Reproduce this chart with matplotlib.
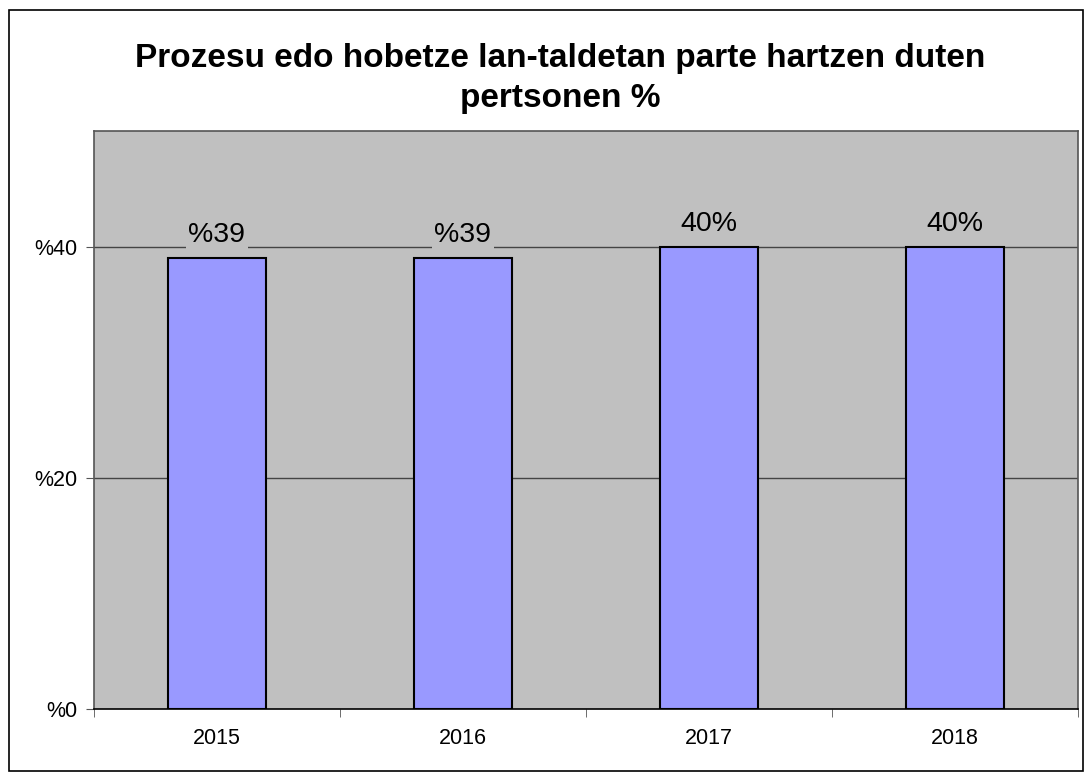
import matplotlib.pyplot as plt
from matplotlib.patches import Rectangle
import numpy as np

plt.rcParams['font.family'] = ['Liberation Sans', 'DejaVu Sans']

years = ['2015', '2016', '2017', '2018']
values = [39, 39, 40, 40]
value_labels = ['%39', '%39', '40%', '40%']
y_ticks = [0, 20, 40]
y_tick_labels = ['%0', '%20', '%40']
title = 'Prozesu edo hobetze lan-taldetan parte hartzen duten\npertsonen %'

fig = plt.figure(figsize=(10.85, 7.76), dpi=100)
ax = fig.add_axes([0.0866, 0.0863, 0.9069, 0.7449])
ax.set_facecolor('#c0c0c0')

x = np.arange(len(years))
ax.bar(x, values, width=0.4, color='#9999ff', edgecolor='black', linewidth=1.5, zorder=3)

ax.set_ylim(0, 50)
ax.set_xlim(-0.5, len(years) - 0.5)
ax.set_yticks(y_ticks)
ax.set_yticklabels(y_tick_labels, fontsize=15.5)
ax.set_xticks(x)
ax.set_xticklabels(years, fontsize=15.5)
ax.tick_params(axis='x', length=0, pad=14)
ax.set_xticks(np.arange(-0.5, len(years), 1.0), minor=True)
ax.tick_params(axis='x', which='minor', length=6, direction='out', color='#555555')
ax.tick_params(axis='y', length=6, direction='out', color='#555555', pad=6)

for yv in y_ticks[1:]:
    ax.axhline(yv, color='#444444', linewidth=1, zorder=1)

for xi, v, lab in zip(x, values, value_labels):
    ax.annotate(lab, (xi, v), xytext=(0, 7), textcoords='offset points',
                ha='center', va='bottom', fontsize=20.5, zorder=4,
                bbox=dict(facecolor='#c0c0c0', edgecolor='none', pad=2))

for side in ['left', 'top', 'right']:
    ax.spines[side].set_color('#555555')
    ax.spines[side].set_linewidth(1.2)
ax.spines['bottom'].set_color('black')
ax.spines['bottom'].set_linewidth(1.2)

fig.text(0.516, 0.899, title, ha='center', va='center', fontsize=24,
         fontweight='bold', linespacing=1.35)

fig.patches.append(Rectangle((0.008, 0.007), 0.99, 0.98, transform=fig.transFigure,
                             fill=False, edgecolor='black', linewidth=1.2))

fig.savefig('out.png', dpi=100)
